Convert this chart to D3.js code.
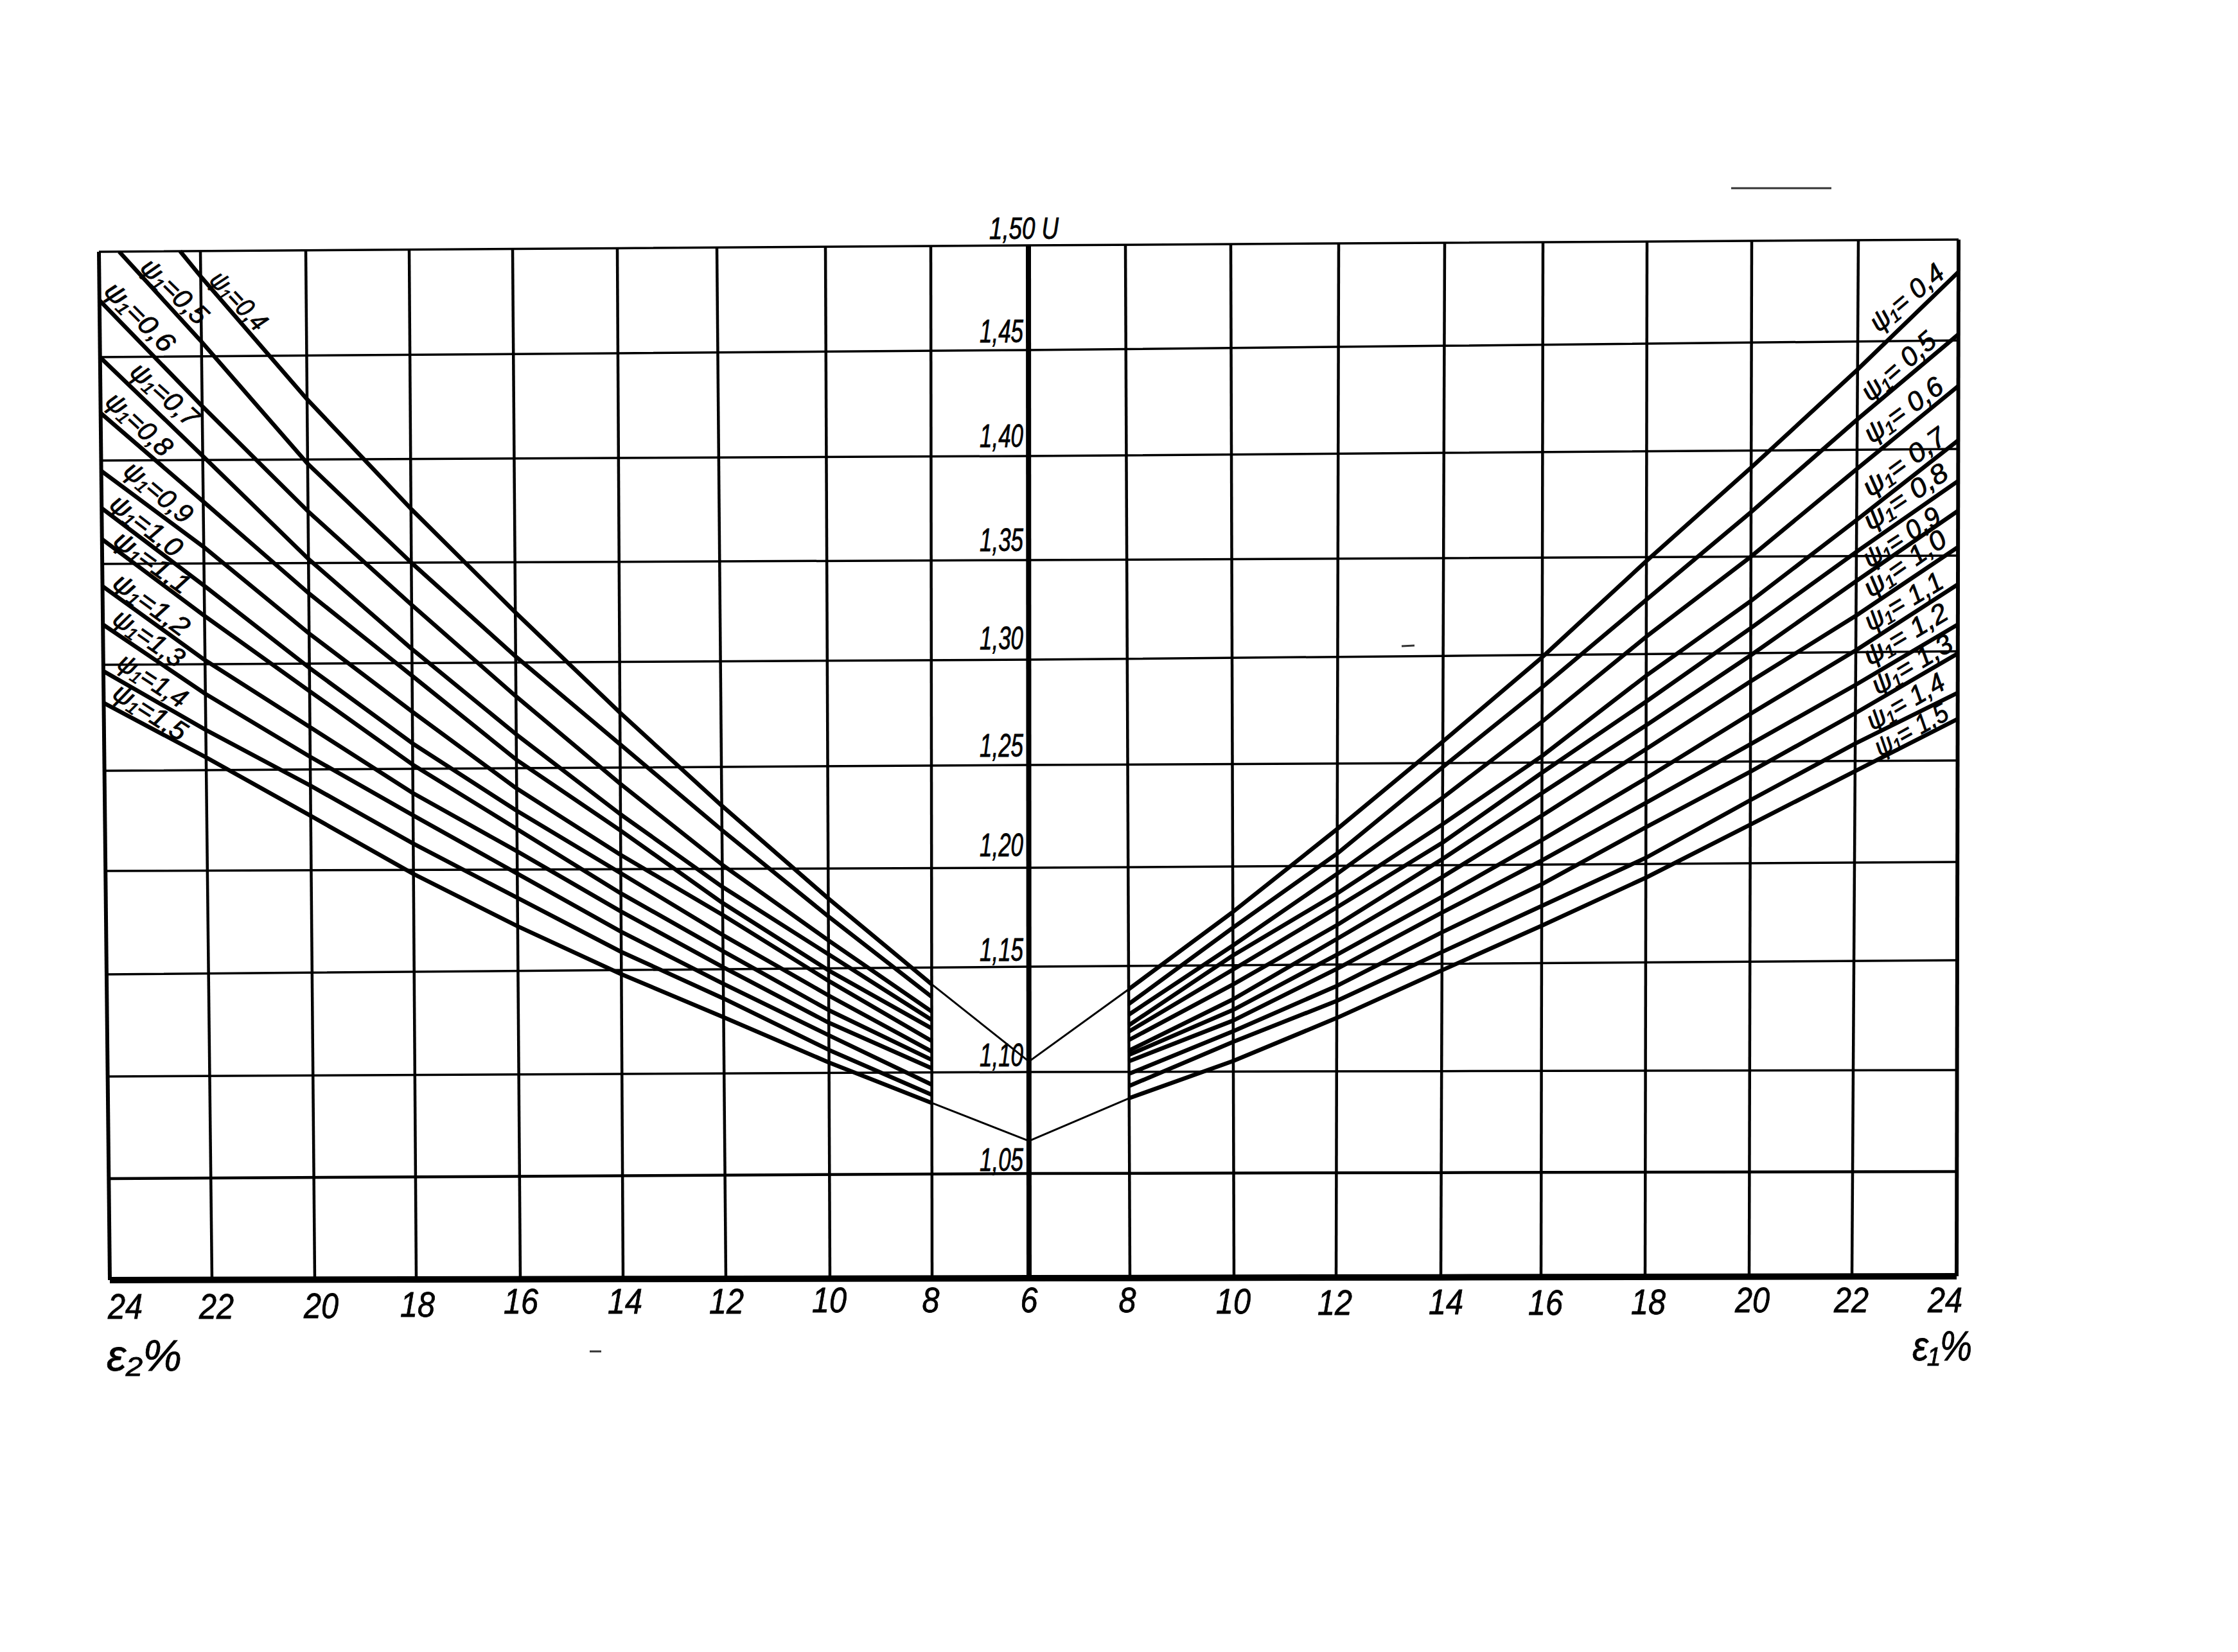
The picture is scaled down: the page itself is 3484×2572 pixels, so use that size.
<!DOCTYPE html>
<html><head><meta charset="utf-8">
<script src="https://d3js.org/d3.v7.min.js"></script>
<style>html,body{margin:0;background:#fff}svg{display:block}text{font-family:"Liberation Sans",sans-serif;font-style:italic;fill:#000;stroke:#000;stroke-width:.8px}</style>
</head><body><div id="chart"></div>
<script>
// ---- data ----
const psi = ["0,4","0,5","0,6","0,7","0,8","0,9","1,0","1,1","1,2","1,3","1,4","1,5"];
const epsLeft = [24,22,20,18,16,14,12,10,8];
const epsRight = [8,10,12,14,16,18,20,22,24];
const uTicks = [1.00,1.05,1.10,1.15,1.20,1.25,1.30,1.35,1.40,1.45,1.50];
const uLabels = ["1,05","1,10","1,15","1,20","1,25","1,30","1,35","1,40","1,45"];
const topLabel = "1,50 U";
const centreEps = 6;
const leftStartEps = [22.4,23.6];   // psi 0.4 and 0.5 leave the frame at U = 1.50
const left04 = [null,1.488,1.429,1.376,1.325,1.276,1.231,1.185,1.142];
const left05 = [null,1.457,1.398,1.350,1.303,1.261,1.219,1.176,1.136];
const left06 = [1.477,1.426,1.375,1.329,1.284,1.242,1.202,1.164,1.129];
const left07 = [1.450,1.402,1.352,1.307,1.266,1.227,1.191,1.157,1.125];
const left08 = [1.423,1.380,1.335,1.294,1.254,1.219,1.183,1.149,1.121];
const left09 = [1.395,1.358,1.315,1.277,1.240,1.207,1.177,1.144,1.115];
const left10 = [1.377,1.339,1.298,1.262,1.229,1.198,1.167,1.137,1.110];
const left11 = [1.362,1.324,1.287,1.252,1.220,1.188,1.159,1.130,1.106];
const left12 = [1.339,1.302,1.270,1.238,1.209,1.179,1.151,1.124,1.102];
const left13 = [1.320,1.286,1.256,1.227,1.198,1.169,1.143,1.118,1.094];
const left14 = [1.297,1.269,1.242,1.213,1.186,1.159,1.136,1.111,1.089];
const left15 = [1.282,1.256,1.227,1.198,1.172,1.148,1.127,1.105,1.085];
const right04 = [1.139,1.177,1.218,1.260,1.299,1.348,1.392,1.437,1.484];
const right05 = [1.132,1.169,1.206,1.248,1.285,1.328,1.371,1.414,1.453];
const right06 = [1.127,1.160,1.196,1.233,1.269,1.309,1.350,1.391,1.429];
const right07 = [1.122,1.155,1.186,1.220,1.253,1.290,1.327,1.367,1.404];
const right08 = [1.119,1.148,1.179,1.211,1.245,1.278,1.313,1.352,1.385];
const right09 = [1.115,1.141,1.170,1.203,1.235,1.267,1.299,1.337,1.371];
const right10 = [1.110,1.134,1.163,1.194,1.224,1.256,1.287,1.319,1.354];
const right11 = [1.108,1.129,1.155,1.184,1.212,1.242,1.272,1.301,1.335];
const right12 = [1.105,1.124,1.148,1.176,1.202,1.230,1.258,1.285,1.314];
const right13 = [1.099,1.119,1.140,1.166,1.190,1.218,1.245,1.272,1.299];
const right14 = [1.093,1.114,1.133,1.156,1.179,1.203,1.231,1.258,1.281];
const right15 = [1.087,1.105,1.125,1.147,1.169,1.193,1.219,1.245,1.269];
const centreUpper = 1.105, centreLower = 1.066;

// ---- layout: the scanned sheet is slightly warped, so scales are read at frame edges ----
const W = 3484, H = 2572;
const posDomain = d3.range(-18,19,2);
const xBottomRange = [171,330,490,648,810,970,1130,1292,1451,1602,1759,1921,2080,2243,2399,2561,2723,2883,3046];
const xTopRange    = [154,312,476,637,798,961,1116,1285,1449,1601,1752,1916,2084,2249,2402,2564,2727,2893,3049];
const yLeftRange   = [1993,1835,1676,1517,1356,1200,1035,878,717,556,392];
const yCentreRange = [1990,1827,1669,1505,1351,1191,1027,872,710,545,382];
const yRightRange  = [1987,1824,1666,1495,1342,1184,1014,865,699,530,373];
const xBottom = d3.scaleLinear().domain(posDomain).range(xBottomRange);
const xTop    = d3.scaleLinear().domain(posDomain).range(xTopRange);
const yLeft   = d3.scaleLinear().domain(uTicks).range(yLeftRange);
const yCentre = d3.scaleLinear().domain(uTicks).range(yCentreRange);
const yRight  = d3.scaleLinear().domain(uTicks).range(yRightRange);
const uFrac   = d3.scaleLinear().domain([1,1.5]).range([0,1]);
const leftFrac  = d3.scaleLinear().domain([160,1602]).range([0,1]);
const rightFrac = d3.scaleLinear().domain([1602,3049]).range([0,1]);

// signed position: left side negative, centre (eps = 6) zero
const pos = (side, e) => side * (e - centreEps);
function project(p, u){
  const x = d3.interpolateNumber(xBottom(p), xTop(p))(uFrac(u));
  const y = x < 1602
    ? d3.interpolateNumber(yLeft(u), yCentre(u))(leftFrac(x))
    : d3.interpolateNumber(yCentre(u), yRight(u))(rightFrac(x));
  return [x, y];
}
const line = d3.line();

const svg = d3.select("#chart").append("svg").attr("width",W).attr("height",H).attr("viewBox",`0 0 ${W} ${H}`);
svg.append("rect").attr("width",W).attr("height",H).attr("fill","#fff");

// ---- grid ----
const gGrid = svg.append("g").attr("fill","none").attr("stroke","#000");
const hWidth = u => u === 1 ? 10 : (u === 1.05 ? 4.5 : 3.5);
gGrid.selectAll("path.h").data(uTicks).join("path").attr("class","h")
  .attr("stroke-width",hWidth)
  .attr("d",u => line([project(-18,u),project(-8,u),project(0,u),project(8,u),project(18,u)]));
const vWidth = p => p === 0 ? 8 : (Math.abs(p) === 18 ? 6 : 4.5);
gGrid.selectAll("path.v").data(posDomain).join("path").attr("class","v")
  .attr("stroke-width",vWidth)
  .attr("d",p => line([project(p,1.5),project(p,1)]));

// ---- curves ----
const leftSeries = [left04,left05,left06,left07,left08,left09,left10,left11,left12,left13,left14,left15];
const rightSeries = [right04,right05,right06,right07,right08,right09,right10,right11,right12,right13,right14,right15];
const gCurves = svg.append("g").attr("fill","none").attr("stroke","#000").attr("stroke-width",6.5).attr("stroke-linejoin","round");
gCurves.selectAll("path.l").data(leftSeries).join("path").attr("class","l")
  .attr("d",(vals,i) => {
    const pts = vals.map((u,k)=>[epsLeft[k],u]).filter(d=>d[1]!==null);
    if (i < leftStartEps.length) pts.unshift([leftStartEps[i],1.5]);
    return line(pts.map(d=>project(pos(-1,d[0]),d[1])));
  });
gCurves.selectAll("path.r").data(rightSeries).join("path").attr("class","r")
  .attr("d",vals => line(vals.map((u,k)=>project(pos(1,epsRight[k]),u))));
// thin links through the centre line
const links = [[left04[8],centreUpper,right04[0]],[left15[8],centreLower,right15[0]]];
svg.append("g").attr("fill","none").attr("stroke","#000").attr("stroke-width",3)
  .selectAll("path").data(links).join("path")
  .attr("d",d => line([project(-2,d[0]),project(0,d[1]),project(2,d[2])]));

// ---- curve labels ----
const leftLabelPos = [[372,468,47],[272,453,44],[218,493,45],[257,614,42],[217,660,43],[247,766,40],[228,818,38],[237,875,36],[236,941,36],[232,993,35],[238,1059,33],[234,1108,33]];
const rightLabelPos = [[2968,463,-40],[2955,570,-41],[2963,638,-36],[2964,719,-36],[2966,773,-34],[2960,836,-33],[2965,877,-35],[2963,936,-31],[2966,987,-31],[2976,1034,-31],[2966,1092,-30],[2975,1136,-29]];
const curveLabel = (sel,places,fmt,len) => sel.selectAll("text").data(psi).join("text")
  .attr("text-anchor","middle").attr("dominant-baseline","central").attr("font-size",42)
  .attr("textLength",(d,i)=>len[i]).attr("lengthAdjust","spacingAndGlyphs")
  .attr("transform",(d,i)=>`translate(${places[i][0]},${places[i][1]}) rotate(${places[i][2]})`)
  .text(fmt);
const leftLen = [110,128,136,128,125,125,130,136,136,125,120,128];
const rightLen = [138,140,142,150,150,136,148,136,146,140,134,125];
curveLabel(svg.append("g"),leftLabelPos,d=>`ψ₁=${d}`,leftLen);
curveLabel(svg.append("g"),rightLabelPos,d=>`ψ₁= ${d}`,rightLen);

// ---- axis labels ----
const xLabelLeftDx = [24,7,10,2,1,3,1,-1,-2];
const xLabelLeftBase = [2053,2053,2052,2050,2045,2045,2045,2043,2043];
const xLabelRightDx = [-4,-1,-2,8,7,5,5,-1,-18];
const xLabelRightBase = [2043,2045,2047,2046,2047,2046,2043,2043,2043];
const gX = svg.append("g").attr("font-size",56).attr("text-anchor","middle");
const xLen = e => String(e).length === 1 ? 27 : 54;
gX.selectAll("text.l").data(epsLeft).join("text").attr("class","l")
  .attr("x",(e,i)=>xBottom(pos(-1,e))+xLabelLeftDx[i]).attr("y",(e,i)=>xLabelLeftBase[i])
  .attr("textLength",xLen).attr("lengthAdjust","spacingAndGlyphs").text(e=>e);
gX.selectAll("text.r").data(epsRight).join("text").attr("class","r")
  .attr("x",(e,i)=>xBottom(pos(1,e))+xLabelRightDx[i]).attr("y",(e,i)=>xLabelRightBase[i])
  .attr("textLength",xLen).attr("lengthAdjust","spacingAndGlyphs").text(e=>e);
gX.append("text").attr("x",xBottom(0)).attr("y",2043).attr("textLength",xLen(centreEps)).attr("lengthAdjust","spacingAndGlyphs").text(centreEps);

const uLabelLift = [4,9,9,18,13,16,14,14,12];
svg.append("g").attr("font-size",50).attr("text-anchor","end")
  .selectAll("text").data(uLabels).join("text")
  .attr("x",1593).attr("y",(d,i)=>yCentre(uTicks[i+1])-uLabelLift[i])
  .attr("textLength",68).attr("lengthAdjust","spacingAndGlyphs").text(d=>d);
svg.append("text").attr("x",1540).attr("y",372).attr("font-size",48)
  .attr("textLength",108).attr("lengthAdjust","spacingAndGlyphs").text(topLabel);
svg.append("text").attr("x",166).attr("y",2134).attr("font-size",68)
  .attr("textLength",117).attr("lengthAdjust","spacingAndGlyphs").text("ε₂%");
svg.append("text").attr("x",2977).attr("y",2118).attr("font-size",64)
  .attr("textLength",93).attr("lengthAdjust","spacingAndGlyphs").text("ε₁%");

// ---- stray marks on the scanned sheet ----
const sheetMarks = [[[2695,293],[2851,293],3],[[2182,1006],[2202,1005],3],[[918,2104],[936,2104],3]];
svg.append("g").attr("stroke","#333").selectAll("line").data(sheetMarks).join("line")
  .attr("x1",d=>d[0][0]).attr("y1",d=>d[0][1]).attr("x2",d=>d[1][0]).attr("y2",d=>d[1][1]).attr("stroke-width",d=>d[2]);
</script></body></html>
